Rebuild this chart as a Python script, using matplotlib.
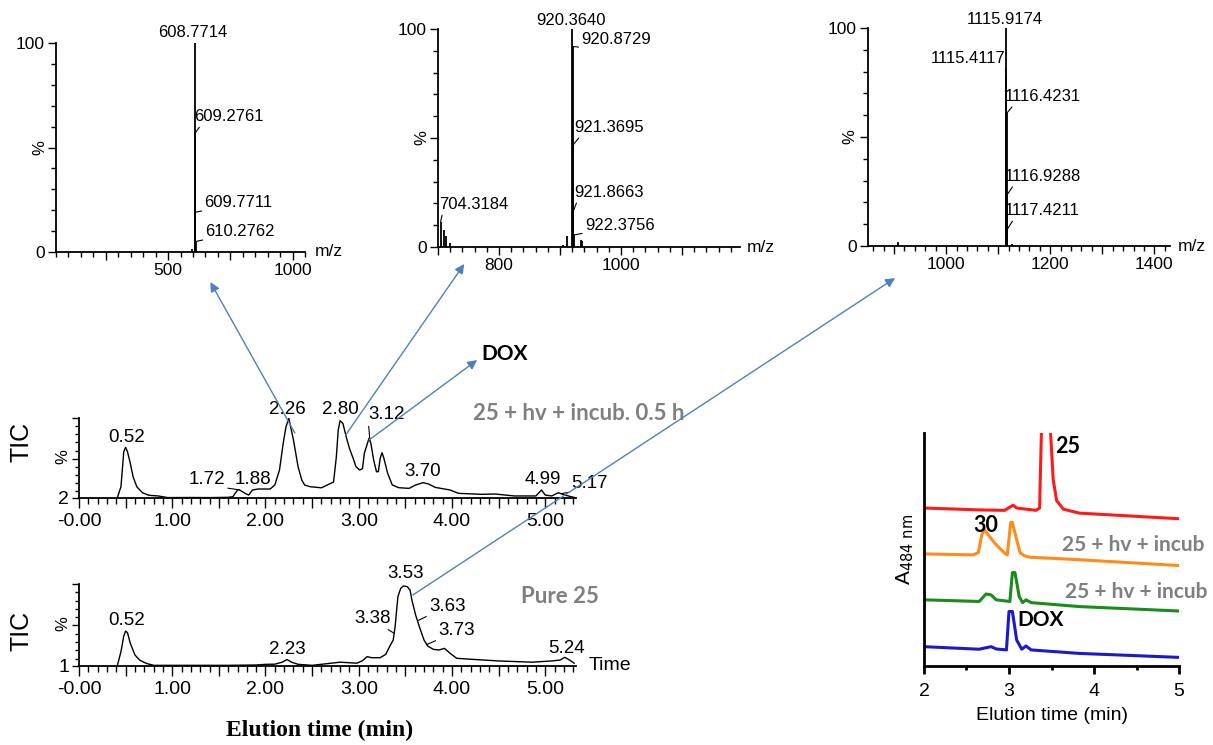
import numpy as np
import matplotlib
matplotlib.use('Agg')
import matplotlib.pyplot as plt
from matplotlib.ticker import MultipleLocator, FuncFormatter
from matplotlib.patches import FancyArrowPatch

plt.rcParams['font.family'] = ['Liberation Sans', 'DejaVu Sans']

#%% Data
# MS spectra: stick m/z and relative intensity (%)
ms1_mz = [596.0, 608.7714, 609.2761, 609.7711, 610.2762]
ms1_int = [1.5, 100.0, 57.0, 19.0, 5.0]
ms1_labels = ['608.7714', '609.2761', '609.7711', '610.2762']

ms2_mz = [704.3184, 710.0, 712.7, 720.0, 904.8, 912.0, 920.3640, 920.8729,
          921.3695, 921.8663, 922.3756, 934.0, 936.7]
ms2_int = [11.6, 8.0, 5.0, 2.0, 1.0, 5.0, 100.0, 92.0, 46.8, 16.5, 5.5, 3.4, 2.6]
ms2_labels = ['920.3640', '920.8729', '921.3695', '921.8663', '922.3756', '704.3184']

ms3_mz = [908.0, 1115.4117, 1115.9174, 1116.4231, 1116.9288, 1117.4211, 1126.0]
ms3_int = [2.0, 78.0, 100.0, 60.9, 23.4, 7.6, 1.0]
ms3_labels = ['1115.9174', '1115.4117', '1116.4231', '1116.9288', '1117.4211']

# TIC chromatograms (time in min, %)
tic1_t = [0.41, 0.45, 0.48, 0.50, 0.52, 0.55, 0.58, 0.62, 0.68, 0.75, 0.85, 0.95,
          1.20, 1.40, 1.60, 1.65, 1.70, 1.72, 1.78, 1.82, 1.86, 1.92, 2.05, 2.10,
          2.15, 2.19, 2.22, 2.25, 2.27, 2.30, 2.35, 2.39, 2.42, 2.48, 2.60, 2.73,
          2.76, 2.78, 2.80, 2.83, 2.87, 2.90, 2.94, 2.97, 3.01, 3.04, 3.06, 3.11,
          3.13, 3.16, 3.19, 3.21, 3.23, 3.25, 3.27, 3.31, 3.36, 3.43, 3.54, 3.61,
          3.69, 3.75, 3.82, 3.92, 3.98, 4.07, 4.32, 4.46, 4.67, 4.90, 4.96, 5.00,
          5.07, 5.14, 5.21, 5.31]
tic1_y = [2.0, 15.8, 58.7, 64.1, 58.7, 44.5, 28.0, 15.8, 8.5, 5.3, 4.5, 2.5,
          2.6, 2.5, 2.8, 3.6, 11.8, 12.0, 7.7, 5.6, 11.8, 13.0, 13.0, 17.9,
          36.2, 69.0, 89.3, 99.6, 89.0, 73.0, 40.0, 23.8, 17.9, 15.8, 14.5, 21.6,
          52.6, 85.3, 96.7, 93.4, 75.1, 62.9, 50.6, 40.4, 36.3, 38.0, 56.7, 75.1,
          69.0, 48.5, 34.2, 34.2, 50.6, 57.5, 50.6, 32.2, 17.9, 14.6, 13.8, 17.9,
          20.8, 19.1, 15.0, 13.0, 11.8, 7.7, 6.5, 6.9, 4.5, 4.5, 11.8, 5.6,
          4.5, 8.5, 5.6, 2.7]
tic1_labels = ['0.52', '1.72', '1.88', '2.26', '2.80', '3.12', '3.70', '4.99', '5.17']

tic2_t = [0.41, 0.45, 0.48, 0.50, 0.52, 0.55, 0.60, 0.65, 0.72, 0.80,
          1.20, 1.60, 1.90, 2.00, 2.10, 2.18, 2.23, 2.28, 2.35, 2.50,
          2.80, 2.98, 3.04, 3.09, 3.14, 3.23, 3.29, 3.34, 3.37, 3.39,
          3.42, 3.45, 3.48, 3.52, 3.55, 3.57, 3.61, 3.65, 3.70, 3.74,
          3.80, 3.86, 3.92, 3.98, 4.05, 4.21, 4.50, 4.86, 5.07, 5.16,
          5.21, 5.26, 5.31]
tic2_y = [1.0, 18.3, 37.2, 43.2, 41.2, 28.4, 14.3, 8.2, 4.2, 1.8,
          1.8, 1.8, 2.2, 3.0, 3.2, 5.6, 8.8, 5.6, 3.0, 1.8,
          5.6, 4.4, 7.4, 12.3, 11.0, 11.0, 15.1, 26.4, 32.4, 48.5,
          84.7, 94.8, 97.6, 96.8, 92.8, 80.7, 62.6, 48.5, 32.4, 25.1,
          21.1, 20.3, 22.3, 16.3, 10.3, 9.1, 7.1, 5.6, 7.1, 8.2,
          11.5, 8.2, 4.4]
tic2_labels = ['0.52', '2.23', '3.38', '3.53', '3.63', '3.73', '5.24']

# HPLC traces at 484 nm (time in min, arbitrary offset absorbance)
red_t = [2.0, 2.65, 2.95, 3.01, 3.05, 3.09, 3.32, 3.36, 3.385, 3.43, 3.48, 3.52, 3.56, 3.64, 3.83, 5.0]
red_y = [67.8, 67.0, 66.8, 68.2, 69.0, 67.8, 66.8, 67.8, 106, 125, 106, 80, 71, 67.3, 65.6, 63.2]
orange_t = [2.0, 2.58, 2.64, 2.68, 2.71, 2.77, 2.85, 2.95, 2.98, 3.02, 3.04, 3.09,
            3.13, 3.18, 3.24, 3.73, 3.83, 5.0]
orange_y = [48.1, 47.7, 48.7, 56.3, 58.5, 55.6, 52.0, 48.4, 47.7, 61.6, 61.6, 54.2,
            48.7, 47.3, 46.7, 45.8, 45.6, 43.1]
green_t = [2.0, 2.65, 2.73, 2.79, 2.85, 3.01, 3.04, 3.07, 3.12, 3.16, 3.20, 3.26, 3.83, 5.0]
green_y = [28.4, 27.7, 30.9, 30.5, 28.4, 27.7, 40.1, 40.1, 29.8, 27.2, 28.4, 27.2, 25.5, 23.6]
blue_t = [2.0, 2.65, 2.79, 2.85, 2.97, 3.00, 3.04, 3.09, 3.15, 3.20, 3.26, 3.83, 5.0]
blue_y = [8.3, 7.2, 8.3, 7.3, 6.9, 23.4, 23.4, 11.2, 7.2, 8.6, 6.9, 5.4, 3.7]

#%% Layout
W, H = 1213, 745
fig = plt.figure(figsize=(W / 100, H / 100), dpi=100)

def box(x0, y0, x1, y1):
    return [x0 / W, 1 - y1 / H, (x1 - x0) / W, (y1 - y0) / H]

axA = fig.add_axes(box(56, 43, 305, 252))
axB = fig.add_axes(box(438, 29, 740, 247))
axC = fig.add_axes(box(868, 28, 1170, 246))
ax1 = fig.add_axes(box(79, 418, 576, 498))
ax2 = fig.add_axes(box(79, 584, 576, 666))
axR = fig.add_axes(box(924, 433, 1179, 666))

grey = '#7f7f7f'
arrow_c = '#4f81bd'

#%% Mass spectra
def ms_panel(ax, mz, inten, labels, label_pos, xlim, major, minor, lab_step, pct_x, mz_x):
    ax.vlines(mz, 0, inten, color='k', lw=1.3)
    ax.set_xlim(xlim)
    ax.set_ylim(0, 100)
    for s in ['top', 'right']:
        ax.spines[s].set_visible(False)
    for s in ['left', 'bottom']:
        ax.spines[s].set_linewidth(1.3)
    ax.xaxis.set_major_locator(MultipleLocator(major))
    ax.xaxis.set_minor_locator(MultipleLocator(minor))
    ax.xaxis.set_major_formatter(FuncFormatter(
        lambda v, p: f'{v:.0f}' if abs(v % lab_step) < 1e-6 else ''))
    ax.set_yticks([0, 50, 100])
    ax.set_yticklabels(['0', '', '100'])
    ax.yaxis.set_minor_locator(MultipleLocator(10))
    ax.tick_params(which='major', length=6, width=1, labelsize=12.5, pad=2)
    ax.tick_params(which='minor', length=3.5, width=1)
    ax.text(pct_x, 0.5, '%', rotation=90, transform=ax.transAxes,
            ha='center', va='center', fontsize=12)
    ax.text(mz_x, 0, 'm/z', transform=ax.transAxes, ha='left', va='center', fontsize=12.5)
    for lab, (tx, ty, ha, rx) in zip(labels, label_pos):
        m = float(lab)
        h = inten[int(np.argmin(np.abs(np.array(mz) - m)))]
        if rx is None:
            ax.text(tx, ty, lab, ha=ha, va='center', fontsize=12)
        else:
            ax.annotate(lab, xy=(m, h), xytext=(tx, ty), ha=ha, va='center', fontsize=12,
                        arrowprops=dict(arrowstyle='-', lw=0.8, color='k',
                                        shrinkA=0, shrinkB=0, relpos=(rx, 0)))

ms_panel(axA, ms1_mz, ms1_int, ms1_labels,
         [(598, 104.8, 'center', None), (606, 64.6, 'left', 0.1),
          (646, 23.5, 'left', 0.0), (650, 9.6, 'left', 0.0)],
         (50, 1050), 250, 50, 500, -0.064, 1.04)
ms_panel(axB, ms2_mz, ms2_int, ms2_labels,
         [(918.5, 104.1, 'center', None), (935, 95, 'left', 0.0),
          (923, 54.7, 'left', 0.1), (923, 24.9, 'left', 0.05),
          (940.6, 9.9, 'left', 0.0), (702, 19.3, 'left', 0.05)],
         (700, 1195), 100, 20, 200, -0.054, 1.023)
ms_panel(axC, ms3_mz, ms3_int, ms3_labels,
         [(1113.5, 103.7, 'center', None), (1113.5, 86.1, 'right', 1.0),
          (1113.5, 68.5, 'left', 0.12), (1113.5, 31.8, 'left', 0.12),
          (1113.5, 16.1, 'left', 0.12)],
         (850, 1430), 100, 20, 200, -0.06, 1.027)

#%% TIC chromatograms
def tic_panel(ax, t, y, ymin, labels, label_pos, tic_y):
    ax.plot(t, y, 'k-', lw=1)
    ax.set_xlim(0, 5.33)
    ax.set_ylim(ymin, 100)
    for s in ['top', 'right']:
        ax.spines[s].set_visible(False)
    for s in ['left', 'bottom']:
        ax.spines[s].set_linewidth(1.3)
    ax.xaxis.set_major_locator(MultipleLocator(0.5))
    ax.xaxis.set_minor_locator(MultipleLocator(0.1))
    ax.xaxis.set_major_formatter(FuncFormatter(
        lambda v, p: ('-0.00' if abs(v) < 1e-6 else f'{v:.2f}') if abs(v - round(v)) < 1e-6 else ''))
    ax.set_yticks([ymin, 50, 100])
    ax.set_yticklabels([str(ymin), '', ''])
    ax.yaxis.set_minor_locator(MultipleLocator(10))
    ax.tick_params(axis='x', which='major', length=7, width=1, labelsize=14, pad=4)
    ax.tick_params(axis='x', which='minor', length=4, width=1)
    ax.tick_params(axis='y', which='major', length=5, width=1, labelsize=14, pad=2)
    ax.tick_params(axis='y', which='minor', length=3, width=1)
    ax.text(-0.033, 0.52, '%', rotation=90, transform=ax.transAxes,
            ha='center', va='center', fontsize=12)
    ax.text(-0.115, tic_y, 'TIC', rotation=90, transform=ax.transAxes,
            ha='center', va='center', fontsize=18)
    for lab, (tx, ty, rx) in zip(labels, label_pos):
        if rx is None:
            ax.text(tx, ty, lab, ha='center', va='center', fontsize=13.5)
        else:
            pt = float(lab)
            ax.annotate(lab, xy=(pt, np.interp(pt, t, y)), xytext=(tx, ty),
                        ha='center', va='center', fontsize=13.5,
                        arrowprops=dict(arrowstyle='-', lw=0.8, color='k',
                                        shrinkA=0, shrinkB=0, relpos=(rx, 0)))

tic_panel(ax1, tic1_t, tic1_y, 2, tic1_labels,
          [(0.51, 76.7, None), (1.37, 24.9, 1.0), (1.87, 24.9, None),
           (2.24, 109.8, None), (2.80, 109.8, None), (3.30, 103.7, 0.0),
           (3.69, 34.2, None), (4.97, 24.9, None), (5.48, 20.0, 0.0)], 0.70)
tic_panel(ax2, tic2_t, tic2_y, 1, tic2_labels,
          [(0.51, 55.7, None), (2.23, 21.1, None), (3.15, 58.6, 0.8),
           (3.50, 112.9, None), (3.95, 72.6, 0.0), (4.05, 43.3, 0.0),
           (5.23, 22.4, None)], 0.43)

ax1.text(4.23, 105.7, '25 + hv + incub. 0.5 h', color=grey, fontsize=16,
         fontweight='bold', family='Lato', ha='left', va='center')
ax1.text(4.31, 178, 'DOX', color='k', fontsize=15, fontweight='bold',
         family='Lato', ha='left', va='center')
ax2.text(5.16, 85.5, 'Pure 25', color=grey, fontsize=16, fontweight='bold',
         family='Lato', ha='center', va='center')
ax2.text(1.026, 0, 'Time', transform=ax2.transAxes, ha='left', va='center', fontsize=14)
ax2.text(0.485, -0.78, 'Elution time (min)', transform=ax2.transAxes, ha='center',
         va='center', fontsize=17, fontweight='bold', family='Liberation Serif')

#%% Arrows from chromatogram peaks to spectra
to_fig = fig.transFigure.inverted()
arrows = [((2.315, 81.6), ax1, (670, -14.4), axA),
          ((2.86, 79.2), ax1, (743, -7.8), axB),
          ((3.11, 73.0), ax1, (4.27, 171.0), ax1),
          ((3.58, 86.7), ax2, (902, -14.7), axC)]
for xyA, a_from, xyB, a_to in arrows:
    pA = to_fig.transform(a_from.transData.transform(xyA))
    pB = to_fig.transform(a_to.transData.transform(xyB))
    arr = FancyArrowPatch(pA, pB, transform=fig.transFigure, arrowstyle='-|>',
                          color=arrow_c, lw=1.0, mutation_scale=14,
                          shrinkA=0, shrinkB=0, zorder=10)
    fig.add_artist(arr)

#%% HPLC panel
axR.plot(red_t, red_y, color='#ff1a1a', lw=2.2)
axR.plot(orange_t, orange_y, color='#ff8c1a', lw=2.2)
axR.plot(green_t, green_y, color='#1a8c1a', lw=2.2)
axR.plot(blue_t, blue_y, color='#1a1acc', lw=2.2)
axR.set_xlim(2, 5)
axR.set_ylim(0, 100)
for s in ['top', 'right']:
    axR.spines[s].set_visible(False)
for s in ['left', 'bottom']:
    axR.spines[s].set_linewidth(2)
axR.set_yticks([])
axR.set_xticks([2, 3, 4, 5])
axR.xaxis.set_minor_locator(MultipleLocator(0.5))
axR.tick_params(axis='x', which='major', length=6, width=2, labelsize=14, pad=6)
axR.tick_params(axis='x', which='minor', length=3, width=2)
axR.set_xlabel('Elution time (min)', fontsize=14, labelpad=5)
axR.set_ylabel('A$_{484\\ \\mathrm{nm}}$', fontsize=15, labelpad=6)

axR.text(3.69, 94, '25', fontsize=15.5, fontweight='bold', family='Lato', ha='center', va='center')
axR.text(2.73, 60.5, '30', fontsize=15.5, fontweight='bold', family='Lato', ha='center', va='center')
axR.text(3.37, 19.7, 'DOX', fontsize=15, fontweight='bold', family='Lato', ha='center', va='center')
axR.text(3.62, 51.9, '25 + hv + incub', color=grey, fontsize=15, fontweight='bold',
         family='Lato', ha='left', va='center')
axR.text(3.66, 31.9, '25 + hv + incub', color=grey, fontsize=15, fontweight='bold',
         family='Lato', ha='left', va='center')

fig.savefig('out.png', dpi=100)
